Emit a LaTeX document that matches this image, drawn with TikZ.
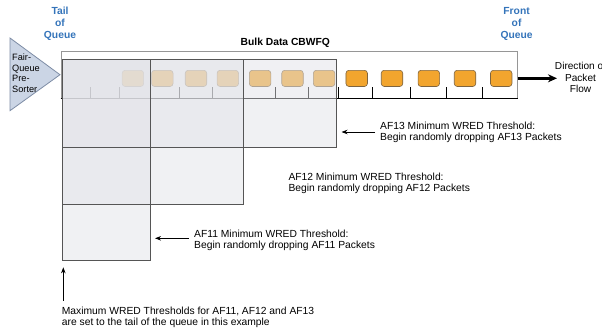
\documentclass[tikz,border=0pt]{standalone}
\usepackage{fontspec}
\setmainfont{Liberation Sans}
\usetikzlibrary{arrows.meta}
\definecolor{qblue}{RGB}{52,116,186}
\definecolor{pktorange}{RGB}{242,165,46}
\definecolor{pktborder}{RGB}{125,100,65}
\definecolor{ovl}{RGB}{226,227,232}
\definecolor{ovlline}{RGB}{85,85,85}
\definecolor{qline}{RGB}{150,150,150}
\definecolor{trifill}{RGB}{203,213,229}
\definecolor{triline}{RGB}{125,140,165}
\tikzset{
  pkt/.style={draw=pktborder, fill=pktorange, rounded corners=3pt, minimum width=21.5pt,
    minimum height=16.2pt, inner sep=0pt, line width=0.6pt},
  qtick/.style={draw=black, line width=0.7pt},
  ovlfill/.style={fill=ovl, fill opacity=0.5},
  ovlbox/.style={draw=ovlline, line width=0.8pt},
  lbl/.style={font=\fontsize{10.3}{10.7}\selectfont, align=left, inner sep=0pt, anchor=north west},
  qlbl/.style={font=\bfseries\fontsize{10.3}{11.8}\selectfont, text=qblue, align=center, inner sep=0pt, anchor=north},
  thinarrow/.style={draw=black, line width=0.8pt, -{Stealth[length=6pt,width=4.5pt]}}
}
\begin{document}
\begin{tikzpicture}[x=1pt,y=-1pt]
\useasboundingbox (0,0) rectangle (602,330);

% queue box
\node[draw=qline, fill=white, line width=0.8pt, minimum width=456.2pt, minimum height=47.3pt,
      inner sep=0pt, anchor=north west] (queue) at (60.5,50.7) {};
\draw[black, line width=0.7pt] (queue.south west) -- (queue.south east);

% ticks
\foreach \x in {90,119.7,150,179.3,212.3,243,275.7,308.3,338.3,372.3,410.7,446.3,482.7}
  \draw[qtick] (\x,87.3) -- (\x,98);

% packets
\foreach \x [count=\i] in {132.9,162.3,196,227.8,260.1,292.5,324.1,356.7,392,428.8,465,501.2}
  \node[pkt] (p\i) at (\x,78.4) {};

% threshold regions
\fill[ovlfill] (62.3,59.5) rectangle (336.7,147.3);
\fill[ovlfill] (62.3,59.5) rectangle (243.3,204);
\fill[ovlfill] (62.3,59.5) rectangle (150.5,260.7);
\draw[ovlbox] (62.3,59.5) rectangle (336.7,147.3);
\draw[ovlbox] (62.3,59.5) rectangle (243.3,204);
\draw[ovlbox] (62.3,59.5) rectangle (150.5,260.7);

% pre-sorter triangle
\draw[fill=trifill, draw=triline, line width=0.8pt] (10,38) -- (60,74.7) -- (10,110.7) -- cycle;
\node[font=\fontsize{9.2}{10.4}\selectfont, align=left, inner sep=0pt, anchor=north west] (sorter)
  at (12,54) {Fair-\\Queue\\Pre-\\Sorter};

% headings
\node[qlbl] (tail) at (60,7.3) {Tail\\of\\Queue};
\node[qlbl] (front) at (516.6,7.3) {Front\\of\\Queue};
\node[font=\bfseries\fontsize{10.3}{12}\selectfont, anchor=base, inner sep=0pt] (bulk) at (285.3,45) {Bulk Data CBWFQ};

% direction of flow
\node[font=\fontsize{10.1}{11.3}\selectfont, align=center, inner sep=0pt, anchor=north] (dir)
  at (580.5,62.3) {Direction of\\Packet\\Flow};
\coordinate (flowtip) at (557,78.3);
\draw[line width=2.6pt, -{Stealth[length=9pt,width=8pt]}] (queue.east |- flowtip) -- (flowtip);

% threshold labels
\node[lbl] (af13) at (380,122.3) {AF13 Minimum WRED Threshold:\\Begin randomly dropping AF13 Packets};
\node[lbl] (af12) at (288.3,173.3) {AF12 Minimum WRED Threshold:\\Begin randomly dropping AF12 Packets};
\node[lbl] (af11) at (194,230) {AF11 Minimum WRED Threshold:\\Begin randomly dropping AF11 Packets};
\node[lbl] (maxlbl) at (61.7,307.3) {Maximum WRED Thresholds for AF11, AF12 and AF13\\are set to the tail of the queue in this example};

\coordinate (a13s) at (375,132);
\coordinate (a13e) at (341.5,132);
\draw[thinarrow] (a13s) -- (a13e);
\coordinate (a11s) at (189,238.3);
\coordinate (a11e) at (155,238.3);
\draw[thinarrow] (a11s) -- (a11e);
\coordinate (mxs) at (63.3,300.7);
\coordinate (mxe) at (63.3,267.3);
\draw[thinarrow] (mxs) -- (mxe);
\end{tikzpicture}
\end{document}
